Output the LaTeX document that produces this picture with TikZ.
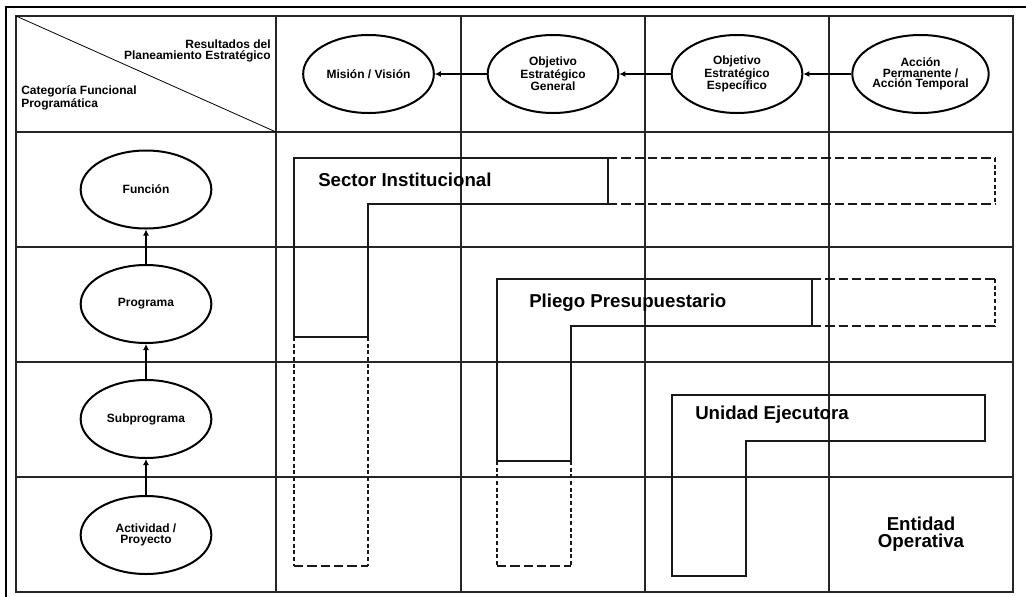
\documentclass[tikz,border=0pt]{standalone}
\usepackage{fontspec}
\setmainfont{Liberation Sans}
\usetikzlibrary{shapes.geometric,arrows.meta}

\tikzset{
	elipse/.style={draw,shape=ellipse,line width=1.5pt,minimum width=98pt,minimum height=58.5pt,inner sep=0pt,align=center,font=\fontsize{9}{8.1}\selectfont\bfseries},
	flecha/.style={line width=1pt,-{Latex[length=4.5pt,width=4.5pt]}},
	rejilla/.style={line width=0.8pt,black!85},
	bloque/.style={line width=0.8pt,black!90},
	extH/.style={line width=0.8pt,black!90,dash pattern=on 7pt off 3pt},
	extV/.style={line width=0.8pt,black!90,dash pattern=on 3pt off 2pt},
	rotulo/.style={inner sep=0pt,font=\fontsize{14}{13}\selectfont\bfseries},
}

\begin{document}
\begin{tikzpicture}[x=0.75pt,y=-0.75pt]
	\useasboundingbox (0,0) rectangle (1026,597);
	% marco
	\draw[line width=1.5pt] (5.5,597) -- (5.5,6.5) -- (1026,6.5);
	\draw[rejilla] (16,16) rectangle (1013,592);
	\foreach \x in {276,461,645,829} \draw[rejilla] (\x,16) -- (\x,592);
	\foreach \y in {132,247,362,477} \draw[rejilla] (16,\y) -- (1013,\y);
	\draw[line width=0.6pt] (16,16) -- (276,132);
	
	\node[anchor=east,align=right,inner sep=0pt,font=\fontsize{9}{8.3}\selectfont\bfseries] (RPE) at (271,51) {Resultados del\\Planeamiento Estratégico};
	\node[anchor=west,align=left,inner sep=0pt,font=\fontsize{9}{8.3}\selectfont\bfseries] (CFP) at (21,98) {Categoría Funcional\\Programática};
	
	% planeamiento estrategico
	\node[elipse] (MV) at (368.5,74) {Misión / Visión};
	\node[elipse] (OEG) at (553,74) {Objetivo\\Estratégico\\General};
	\node[elipse] (OEE) at (737,74) {Objetivo\\Estratégico\\Específico};
	\node[elipse] (AP) at (920.5,74) {Acción\\Permanente /\\Acción Temporal};
	
	\draw[flecha] (AP)--(OEE);
	\draw[flecha] (OEE)--(OEG);
	\draw[flecha] (OEG)--(MV);
	
	% categoria funcional programatica
	\node[elipse] (FN) at (146,189.5) {Función};
	\node[elipse] (PG) at (146,304) {Programa};
	\node[elipse] (SP) at (146,419) {Subprograma};
	\node[elipse] (AY) at (146,535) {Actividad /\\Proyecto};
	
	\draw[flecha] (AY)--(SP);
	\draw[flecha] (SP)--(PG);
	\draw[flecha] (PG)--(FN);
	
	% sector institucional
	\draw[bloque] (294,158) -- (608,158) -- (608,204) -- (368,204) -- (368,337) -- (294,337) -- cycle;
	\draw[extH] (608,158) -- (995,158);
	\draw[extH] (608,204) -- (995,204);
	\draw[extV] (995,158) -- (995,204);
	\draw[extV] (294,337) -- (294,566);
	\draw[extV] (368,337) -- (368,566);
	\draw[extH] (294,566) -- (368,566);
	\node[rotulo,anchor=west] (SI) at (318,180) {Sector Institucional};
	
	% pliego presupuestario
	\draw[bloque] (497,279) -- (812,279) -- (812,326) -- (571,326) -- (571,461) -- (497,461) -- cycle;
	\draw[extH] (812,279) -- (995,279);
	\draw[extH] (812,326) -- (995,326);
	\draw[extV] (995,279) -- (995,326);
	\draw[extV] (497,461) -- (497,566);
	\draw[extV] (571,461) -- (571,566);
	\draw[extH] (497,566) -- (571,566);
	\node[rotulo,anchor=west] (PP) at (529,303) {Pliego Presupuestario};
	
	% unidad ejecutora
	\draw[bloque] (672,395) -- (985,395) -- (985,441) -- (746,441) -- (746,576) -- (672,576) -- cycle;
	\node[rotulo,anchor=west] (UE) at (695,415) {Unidad Ejecutora};
	
	\node[rotulo,align=center] (EO) at (921,534.5) {Entidad\\Operativa};
\end{tikzpicture}
\end{document}
